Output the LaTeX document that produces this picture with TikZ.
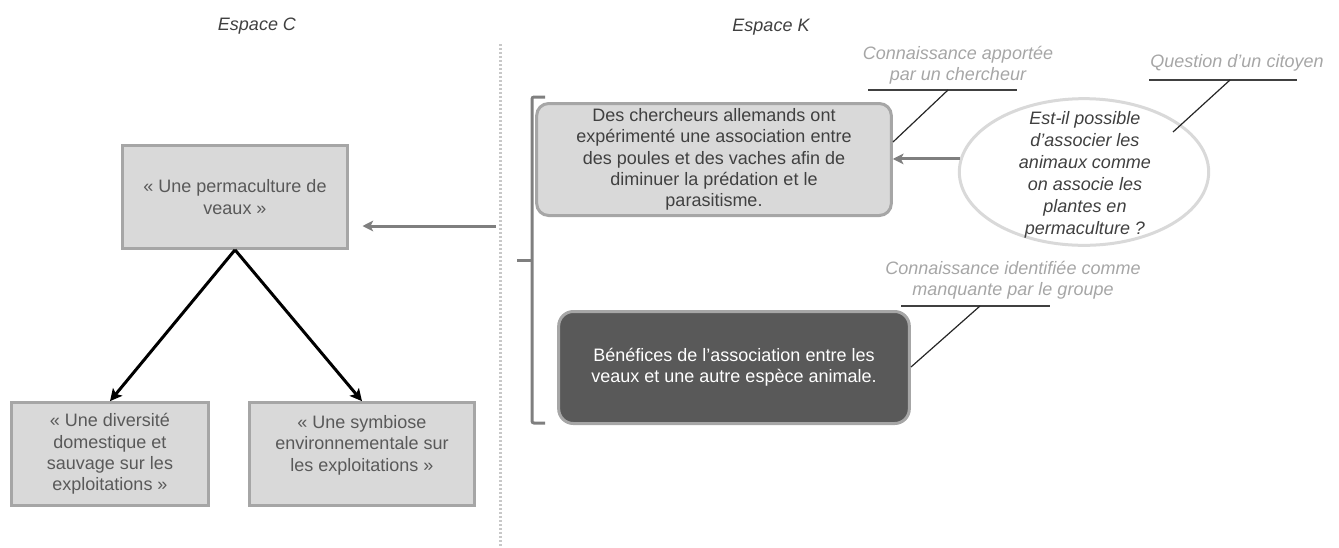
\documentclass[tikz,border=0pt]{standalone}
\usepackage{fontspec}
\setmainfont{Liberation Sans}
\usetikzlibrary{arrows.meta,shapes.geometric}

\definecolor{boxfill}{HTML}{D9D9D9}
\definecolor{boxline}{HTML}{A6A6A6}
\definecolor{txtgray}{HTML}{595959}
\definecolor{txtdark}{HTML}{404040}
\definecolor{arrowgray}{HTML}{7F7F7F}
\definecolor{dotgray}{HTML}{C8C8C8}
\definecolor{darkbox}{HTML}{595959}

\begin{document}
\begin{tikzpicture}[x=0.75pt, y=-0.75pt]
        % Styles
        \tikzset{
            txt/.style = {font=\fontsize{13.5}{16}\selectfont, align=center},
            ideabox/.style = {txt, rectangle, draw=boxline, line width=2.25pt, fill=boxfill,
                text=txtgray, inner sep=2pt},
            knowbox/.style = {txt, rectangle, rounded corners=9pt, draw=boxline, line width=2.25pt,
                fill=boxfill, text=txtdark, inner sep=2pt},
            callout/.style = {txt, font=\fontsize{13.5}{16}\selectfont\itshape, text=boxline},
            under/.style = {draw=txtdark, line width=1.3pt},
            leader/.style = {draw=black!85, line width=0.9pt},
            grayarrow/.style = {-{Stealth[length=8pt, width=8pt, inset=2pt]}, draw=arrowgray,
                line width=2.25pt},
            blackarrow/.style = {-{Stealth[length=9pt, width=9pt, inset=2pt]}, line width=2.25pt}
        }
        \useasboundingbox (0,0) rectangle (1339,547);

        % Titres des espaces
        \node[txt, font=\fontsize{13.5}{16}\selectfont\itshape, text=txtdark] (titleC) at (257,26) {Espace C};
        \node[txt, font=\fontsize{13.5}{16}\selectfont\itshape, text=txtdark] (titleK) at (771,27) {Espace K};

        % Separation C / K
        \draw[dotgray, line width=2.25pt, dash pattern=on 1.5pt off 1.5pt] (500,44) -- (500,547);

        % Espace C
        \node[ideabox, minimum width=169pt, minimum height=77pt] (perma) at (235,197)
            {« Une permaculture de\\veaux »};
        \node[ideabox, minimum width=148pt, minimum height=77pt] (divers) at (110,454)
            {« Une diversité\\domestique et\\sauvage sur les\\exploitations »};
        \node[ideabox, minimum width=169pt, minimum height=77pt] (symb) at (362,454)
            {« Une symbiose\\environnementale sur\\les exploitations »\\ \mbox{}};

        \draw[blackarrow] (perma.south) -- (divers.north);
        \draw[blackarrow] (perma.south) -- (symb.north);

        % Espace K
        \node[knowbox, minimum width=266pt, minimum height=84pt] (cherch) at (714,159.5)
            {Des chercheurs allemands ont\\expérimenté une association entre\\des poules et des vaches afin de\\diminuer la prédation et le\\parasitisme.};
        \node[knowbox, rounded corners=11pt, fill=darkbox, text=white, minimum width=263pt,
            minimum height=84pt] (benef) at (734,367.5)
            {Bénéfices de l’association entre les\\veaux et une autre espèce animale.};
        \node[ellipse, draw=boxfill, line width=2.25pt, fill=white, minimum width=187pt,
            minimum height=110pt, inner sep=0pt] (quest) at (1084,172) {};
        \node[txt, font=\fontsize{13.5}{16.5}\selectfont\itshape, text=txtdark] (questtxt) at (1085,175)
            {Est-il possible\\d’associer les\\animaux comme\\on associe les\\plantes en\\permaculture ?};

        % Accolade
        \draw[arrowgray, line width=2.25pt, rounded corners=1.5pt]
            (545,97) -- (532,97) -- (532,423) -- (545,423);
        \draw[arrowgray, line width=2.25pt] (532,260) -- (517,260);

        % Fleches grises
        \coordinate (fromK) at (496,226);
        \draw[grayarrow, shorten >=10pt] (fromK) -- (perma.east |- fromK);
        \draw[grayarrow] (quest.174) -- (cherch.east |- quest.174);

        % Legendes
        \node[callout] (legA) at (958,65) {Connaissance apportée\\par un chercheur};
        \coordinate (legAl) at (868,90);
        \coordinate (legAr) at (1017,90);
        \coordinate (legAk) at (948,90);
        \coordinate (legAe) at (893,142);
        \draw[under] (legAl) -- (legAr);
        \draw[leader] (legAk) -- (legAe);

        \node[callout] (legQ) at (1237,63) {Question d’un citoyen};
        \coordinate (legQl) at (1149,80);
        \coordinate (legQr) at (1297,80);
        \coordinate (legQk) at (1230,80);
        \coordinate (legQe) at (1173,132);
        \draw[under] (legQl) -- (legQr);
        \draw[leader] (legQk) -- (legQe);

        \node[callout] (legM) at (1013,280) {Connaissance identifiée comme\\manquante par le groupe};
        \coordinate (legMl) at (901,306);
        \coordinate (legMr) at (1050,306);
        \coordinate (legMk) at (980,306);
        \coordinate (legMe) at (911,367);
        \draw[under] (legMl) -- (legMr);
        \draw[leader] (legMk) -- (legMe);

    \end{tikzpicture}
\end{document}
